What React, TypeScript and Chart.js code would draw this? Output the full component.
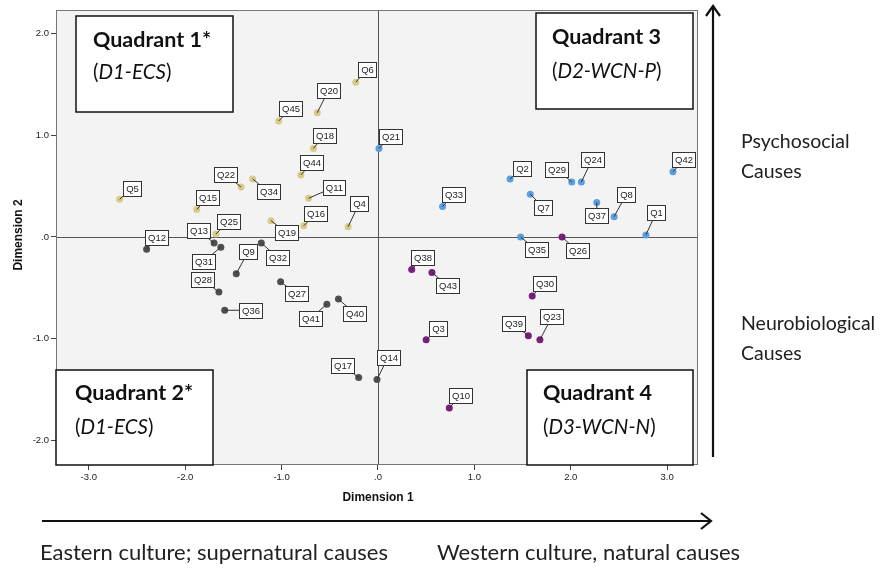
import React, { useEffect, useRef } from "react";
import { Chart, registerables } from "chart.js";

Chart.register(...registerables);

// ---- Data ----
const yellowLabels = ["Q6", "Q20", "Q45", "Q18", "Q44", "Q22", "Q34", "Q5", "Q15", "Q11", "Q4", "Q16", "Q19", "Q25"];
const yellowX = [-0.23, -0.63, -1.03, -0.67, -0.8, -1.42, -1.3, -2.68, -1.88, -0.72, -0.31, -0.77, -1.11, -1.68];
const yellowY = [1.52, 1.22, 1.14, 0.87, 0.61, 0.49, 0.57, 0.37, 0.27, 0.38, 0.1, 0.11, 0.16, 0.03];

const greyLabels = ["Q12", "Q13", "Q31", "Q9", "Q32", "Q28", "Q36", "Q27", "Q41", "Q40", "Q17", "Q14"];
const greyX = [-2.4, -1.7, -1.63, -1.47, -1.21, -1.65, -1.59, -1.01, -0.53, -0.41, -0.2, -0.01];
const greyY = [-0.12, -0.06, -0.1, -0.36, -0.06, -0.54, -0.72, -0.44, -0.66, -0.61, -1.38, -1.4];

const blueLabels = ["Q21", "Q2", "Q29", "Q24", "Q42", "Q7", "Q33", "Q37", "Q8", "Q1", "Q35"];
const blueX = [0.01, 1.37, 2.01, 2.11, 3.06, 1.58, 0.67, 2.27, 2.45, 2.78, 1.48];
const blueY = [0.87, 0.57, 0.54, 0.54, 0.64, 0.42, 0.3, 0.34, 0.2, 0.02, 0.0];

const purpleLabels = ["Q26", "Q38", "Q43", "Q30", "Q3", "Q39", "Q23", "Q10"];
const purpleX = [1.91, 0.35, 0.56, 1.6, 0.5, 1.56, 1.68, 0.74];
const purpleY = [0.0, -0.32, -0.35, -0.58, -1.01, -0.97, -1.01, -1.68];

const xTicks = [-3, -2, -1, 0, 1, 2, 3];
const yTicks = [-2, -1, 0, 1, 2];

// ---- Layout / style (label box offsets from point, in px) ----
const labelOffsets: Record<string, [number, number]> = {
  Q6: [11, -13], Q20: [11, -22], Q45: [12, -12], Q18: [11, -13], Q44: [11, -12],
  Q22: [-16, -13], Q34: [16, 13], Q5: [12, -11], Q15: [11, -12], Q11: [25, -11],
  Q4: [11, -23], Q16: [12, -12], Q19: [16, 12], Q25: [12, -12],
  Q12: [10, -12], Q13: [-16, -13], Q31: [-17, 14], Q9: [12, -22], Q32: [16, 14],
  Q28: [-16, -12], Q36: [26, 0], Q27: [16, 12], Q41: [-16, 14], Q40: [16, 14],
  Q17: [-16, -12], Q14: [11, -22],
  Q21: [12, -12], Q2: [12, -10], Q29: [-15, -13], Q24: [11, -23], Q42: [11, -12],
  Q7: [13, 13], Q33: [11, -12], Q37: [0, 13], Q8: [12, -22], Q1: [10, -22], Q35: [16, 13],
  Q26: [15, 14], Q38: [11, -12], Q43: [16, 13], Q30: [12, -13], Q3: [12, -11],
  Q39: [-15, -12], Q23: [12, -23], Q10: [11, -12],
};

const quadrants = [
  { box: [76, 16, 233, 112], title: "Quadrant 1*", sub: "D1-ECS", tx: 93, ty1: 40, ty2: 72 },
  { box: [56, 370, 213, 465], title: "Quadrant 2*", sub: "D1-ECS", tx: 75, ty1: 393, ty2: 427 },
  { box: [536, 13, 693, 109], title: "Quadrant 3", sub: "D2-WCN-P", tx: 552, ty1: 37, ty2: 71 },
  { box: [527, 370, 693, 465], title: "Quadrant 4", sub: "D3-WCN-N", tx: 543, ty1: 393, ty2: 427 },
];

const toPoints = (labels: string[], xs: number[], ys: number[]) =>
  labels.map((l, i) => ({ x: xs[i], y: ys[i], label: l }));

const fmt = (v: number) => {
  const s = Math.abs(v).toFixed(1);
  const t = s.startsWith("0") ? s.slice(1) : s;
  return v < 0 ? "-" + t : t;
};

const decorPlugin = {
  id: "decor",
  beforeDraw(chart: any) {
    const { ctx, chartArea: a } = chart;
    ctx.save();
    ctx.fillStyle = "#ffffff";
    ctx.fillRect(0, 0, chart.width, chart.height);
    ctx.fillStyle = "#f3f3f3";
    ctx.fillRect(a.left, a.top, a.right - a.left, a.bottom - a.top);
    ctx.restore();
  },
  beforeDatasetsDraw(chart: any) {
    const { ctx, chartArea: a, scales } = chart;
    const x0 = Math.round(scales.x.getPixelForValue(0)) + 0.5;
    const y0 = Math.round(scales.y.getPixelForValue(0)) + 0.5;
    ctx.save();
    ctx.strokeStyle = "#555";
    ctx.lineWidth = 1;
    ctx.beginPath();
    ctx.moveTo(x0, a.top);
    ctx.lineTo(x0, a.bottom);
    ctx.moveTo(a.left, y0);
    ctx.lineTo(a.right, y0);
    ctx.stroke();
    ctx.strokeStyle = "#777";
    ctx.strokeRect(a.left + 0.5, a.top + 0.5, a.right - a.left - 1, a.bottom - a.top - 1);
    ctx.restore();
  },
  afterDatasetsDraw(chart: any) {
    const { ctx } = chart;
    ctx.save();
    ctx.font = "9.5px 'Liberation Sans', Arial, sans-serif";
    ctx.textAlign = "center";
    ctx.textBaseline = "middle";
    chart.data.datasets.forEach((ds: any, di: number) => {
      const meta = chart.getDatasetMeta(di);
      meta.data.forEach((el: any, i: number) => {
        const lab = ds.data[i].label;
        const off = labelOffsets[lab] || [11, -12];
        const px = el.x, py = el.y;
        const cx = px + off[0], cy = py + off[1];
        const w = Math.round(ctx.measureText(lab).width + 5);
        const h = 15;
        ctx.strokeStyle = "#333";
        ctx.lineWidth = 1;
        ctx.beginPath();
        ctx.moveTo(px, py);
        ctx.lineTo(cx, cy);
        ctx.stroke();
        ctx.fillStyle = "#ffffff";
        const bx = Math.round(cx - w / 2) + 0.5, by = Math.round(cy - h / 2) + 0.5;
        ctx.fillRect(bx, by, w, h);
        ctx.strokeRect(bx, by, w, h);
        ctx.fillStyle = "#222";
        ctx.fillText(lab, bx + w / 2, by + h / 2 + 0.5);
      });
    });
    ctx.restore();
  },
  afterDraw(chart: any) {
    const { ctx } = chart;
    ctx.save();
    // quadrant boxes
    quadrants.forEach((q) => {
      const [l, t, r, b] = q.box;
      ctx.fillStyle = "#ffffff";
      ctx.fillRect(l, t, r - l, b - t);
      ctx.strokeStyle = "#111";
      ctx.lineWidth = 1.5;
      ctx.strokeRect(l, t, r - l, b - t);
      ctx.fillStyle = "#111";
      ctx.textBaseline = "middle";
      ctx.textAlign = "left";
      ctx.font = "bold 21.5px Lato, 'Open Sans', sans-serif";
      ctx.fillText(q.title, q.tx, q.ty1);
      ctx.font = "20.5px Lato, 'Open Sans', sans-serif";
      let x = q.tx;
      ctx.fillText("(", x, q.ty2);
      x += ctx.measureText("(").width;
      ctx.font = "italic 20.5px Lato, 'Open Sans', sans-serif";
      ctx.fillText(q.sub, x, q.ty2);
      x += ctx.measureText(q.sub).width;
      ctx.font = "20.5px Lato, 'Open Sans', sans-serif";
      ctx.fillText(")", x, q.ty2);
    });

    // axis titles
    ctx.fillStyle = "#111";
    ctx.font = "bold 13px 'Liberation Sans Narrow', 'Liberation Sans', Arial, sans-serif";
    ctx.textAlign = "center";
    ctx.textBaseline = "middle";
    ctx.save();
    ctx.translate(378, 497);
    ctx.scale(0.92, 1);
    ctx.fillText("Dimension 1", 0, 0);
    ctx.restore();
    ctx.save();
    ctx.translate(18, 235);
    ctx.rotate(-Math.PI / 2);
    ctx.scale(0.92, 1);
    ctx.fillText("Dimension 2", 0, 0);
    ctx.restore();

    // arrows
    ctx.strokeStyle = "#111";
    ctx.lineWidth = 2.2;
    ctx.lineCap = "butt";
    ctx.beginPath();
    ctx.moveTo(42, 521);
    ctx.lineTo(711, 521);
    ctx.stroke();
    ctx.beginPath();
    ctx.moveTo(701, 513);
    ctx.lineTo(711, 521);
    ctx.lineTo(701, 529);
    ctx.stroke();
    ctx.beginPath();
    ctx.moveTo(713, 457);
    ctx.lineTo(713, 6);
    ctx.stroke();
    ctx.beginPath();
    ctx.moveTo(706, 16);
    ctx.lineTo(713, 6);
    ctx.lineTo(720, 16);
    ctx.stroke();

    // side/bottom texts
    ctx.fillStyle = "#222";
    ctx.textAlign = "left";
    ctx.font = "19.5px Lato, 'Open Sans', sans-serif";
    ctx.fillText("Psychosocial", 741, 142);
    ctx.fillText("Causes", 741, 172);
    ctx.fillText("Neurobiological", 741, 324);
    ctx.fillText("Causes", 741, 354);
    ctx.font = "22px Lato, 'Open Sans', sans-serif";
    ctx.fillText("Eastern culture; supernatural causes", 40, 553);
    ctx.fillText("Western culture, natural causes", 437, 553);
    ctx.restore();
  },
};

export default function App() {
  const ref = useRef<HTMLCanvasElement | null>(null);
  useEffect(() => {
    document.body.style.margin = "0";
    if (!ref.current) return;
    const pointStyle = (color: string) => ({
      backgroundColor: color,
      borderWidth: 0,
      pointRadius: 3.5,
      pointHoverRadius: 3.5,
    });
    const chart = new Chart(ref.current, {
      type: "scatter",
      data: {
        datasets: [
          { label: "D1", data: toPoints(yellowLabels, yellowX, yellowY), ...pointStyle("#d8cb88") },
          { label: "D1b", data: toPoints(greyLabels, greyX, greyY), ...pointStyle("#4f4f4f") },
          { label: "D2", data: toPoints(blueLabels, blueX, blueY), ...pointStyle("#5b9fdc") },
          { label: "D3", data: toPoints(purpleLabels, purpleX, purpleY), ...pointStyle("#7a1f7c") },
        ],
      },
      options: {
        responsive: false,
        animation: false,
        layout: { padding: { left: 0, top: 10, right: 182, bottom: 0 } },
        plugins: { legend: { display: false }, tooltip: { enabled: false } },
        scales: {
          x: {
            type: "linear",
            min: -3.34,
            max: 3.32,
            afterFit: (s: any) => { s.height = 105; },
            afterBuildTicks: (s: any) => { s.ticks = xTicks.map((v) => ({ value: v })); },
            ticks: {
              includeBounds: false,
              stepSize: 1,
              callback: (v: any) => fmt(Number(v)),
              font: { family: "'Liberation Sans Narrow', 'Liberation Sans', Arial", size: 9.5 },
              color: "#222",
              padding: 2,
              maxRotation: 0,
            },
            grid: { drawOnChartArea: false, tickLength: 5, color: "#444" },
            border: { display: false },
          },
          y: {
            type: "linear",
            min: -2.24,
            max: 2.23,
            afterFit: (s: any) => { s.width = 56; },
            afterBuildTicks: (s: any) => { s.ticks = yTicks.map((v) => ({ value: v })); },
            ticks: {
              includeBounds: false,
              stepSize: 1,
              callback: (v: any) => fmt(Number(v)),
              font: { family: "'Liberation Sans Narrow', 'Liberation Sans', Arial", size: 9.5 },
              color: "#222",
              padding: 2,
            },
            grid: { drawOnChartArea: false, tickLength: 5, color: "#444" },
            border: { display: false },
          },
        },
      },
      plugins: [decorPlugin],
    });
    return () => chart.destroy();
  }, []);
  return (
    <div style={{ width: 880, height: 570 }}>
      <canvas ref={ref} width={880} height={570} style={{ display: "block", width: 880, height: 570 }} />
    </div>
  );
}
